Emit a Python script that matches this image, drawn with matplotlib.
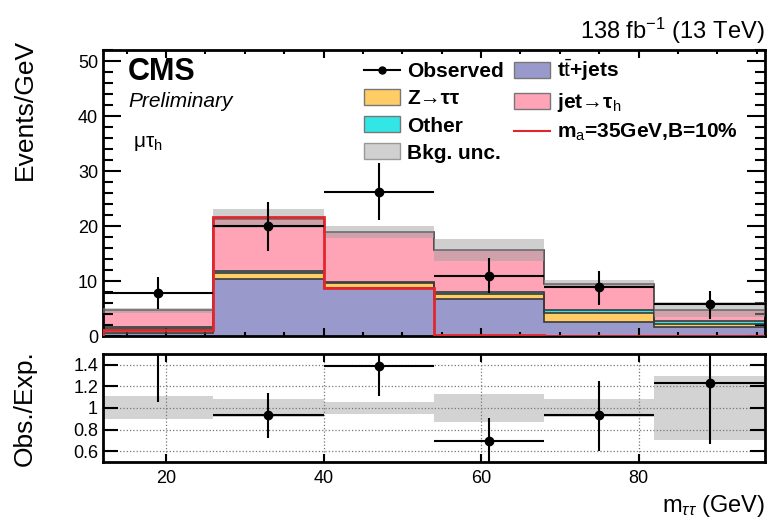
import matplotlib
matplotlib.use("Agg")
import matplotlib.pyplot as plt
import numpy as np
from matplotlib.ticker import MultipleLocator, FuncFormatter
from matplotlib.patches import Patch
from matplotlib.lines import Line2D

plt.rcParams["font.family"] = ["Liberation Sans", "DejaVu Sans"]
plt.rcParams["mathtext.fontset"] = "custom"
plt.rcParams["mathtext.rm"] = "Liberation Sans"
plt.rcParams["mathtext.it"] = "Liberation Sans:italic"
plt.rcParams["mathtext.bf"] = "Liberation Sans:bold"

# binning in m_tautau (GeV)
edges = [12, 26, 40, 54, 68, 82, 96]
centers = [19, 33, 47, 61, 75, 89]

# backgrounds (events/GeV), bottom to top of the stack
ttbar = [0.6, 10.4, 8.8, 6.7, 2.6, 1.7]
ztt = [0.7, 1.1, 0.8, 0.9, 1.7, 0.5]
other = [0.4, 0.3, 0.2, 0.4, 0.4, 0.6]
jetfake = [3.0, 9.6, 9.2, 7.7, 4.8, 2.0]
bkg_unc = [0.5, 1.7, 1.1, 2.0, 0.8, 1.4]

# signal m_a = 35 GeV, B = 10%
signal = [1.1, 21.7, 8.8, 0.3, 0.05, 0.0]

# data
obs = [7.8, 20.0, 26.3, 10.9, 8.9, 5.9]
obs_lo = [2.85, 4.5, 5.2, 3.1, 3.2, 2.7]
obs_hi = [2.9, 4.4, 5.2, 3.4, 3.0, 2.3]

c_tt = "#9999cc"
c_z = "#ffcc66"
c_other = "#33e6e6"
c_jet = "#ffa3b6"
c_sig = "#e3262e"

fig = plt.figure(figsize=(7.74, 5.18), dpi=100)
ax = fig.add_axes([0.133, 0.351, 0.855, 0.552])
rax = fig.add_axes([0.133, 0.108, 0.855, 0.209])

# stack
base = np.zeros(len(centers))
for vals, col in [(ttbar, c_tt), (ztt, c_z), (other, c_other), (jetfake, c_jet)]:
    top = base + np.array(vals)
    ax.stairs(top, edges, baseline=base, fill=True, color=col, lw=0, zorder=1)
    ax.stairs(top, edges, baseline=None, color="#3a3a3a", lw=1.2, zorder=2)
    base = top
total = base
unc = np.array(bkg_unc)

ax.stairs(total + unc, edges, baseline=total - unc, fill=True,
          color="#a0a0a0", alpha=0.5, lw=0, zorder=3)
ax.stairs(signal, edges, baseline=0, color=c_sig, lw=2, zorder=4)
ax.errorbar(centers, obs, xerr=7, yerr=[obs_lo, obs_hi], fmt="o", color="black",
            ms=6, lw=1.5, capsize=0, zorder=5)

ax.set_xlim(12, 96)
ax.set_ylim(0, 52)
ax.yaxis.set_major_locator(MultipleLocator(10))
ax.yaxis.set_minor_locator(MultipleLocator(2))
ax.xaxis.set_major_locator(MultipleLocator(20))
ax.xaxis.set_minor_locator(MultipleLocator(5))
ax.tick_params(which="both", direction="in", top=True, right=True,
               labelbottom=False, width=1.5, labelsize=13)
ax.tick_params(axis="y", which="major", length=13)
ax.tick_params(axis="y", which="minor", length=7)
ax.tick_params(axis="x", which="major", length=6)
ax.tick_params(axis="x", which="minor", length=3)
ax.set_ylabel("Events/GeV", fontsize=19, loc="top")
ax.yaxis.set_label_coords(-0.1, 1.04)

ax.text(1.0, 1.015, "138 fb$^{-1}$ (13 TeV)", transform=ax.transAxes,
        ha="right", va="bottom", fontsize=17)
ax.text(0.038, 0.925, "CMS", transform=ax.transAxes, fontsize=22,
        fontweight="bold", va="center")
ax.text(0.038, 0.82, "Preliminary", transform=ax.transAxes, fontsize=15,
        style="italic", va="center")
ax.text(0.045, 0.675, "\u03bc\u03c4$_{\\rm h}$", transform=ax.transAxes,
        fontsize=15, va="center")

handles = [
    Line2D([0], [0], color="black", marker="o", ms=5, lw=1.5),
    Patch(facecolor=c_z, edgecolor="#777777"),
    Patch(facecolor=c_other, edgecolor="#777777"),
    Patch(facecolor="#d0d0d0", edgecolor="#999999"),
    Patch(facecolor=c_tt, edgecolor="#777777"),
    Patch(facecolor=c_jet, edgecolor="#777777"),
    Line2D([0], [0], color=c_sig, lw=1.5),
]
labels = ["Observed", "Z\u2192\u03c4\u03c4", "Other", "Bkg. unc.",
          "t$\\bar{\\rm t}$+jets", "jet\u2192\u03c4$_{\\rm h}$",
          "m$_{\\rm a}$=35GeV,B=10%"]
ax.legend(handles, labels, ncol=2, loc="upper left", bbox_to_anchor=(0.395, 0.975),
          frameon=False, prop={"weight": "bold", "size": 15}, handlelength=1.7,
          handleheight=0.8, handletextpad=0.35, labelspacing=0.38,
          columnspacing=0.5, borderpad=0, borderaxespad=0)

# ratio panel
ratio = np.array(obs) / total
r_lo = np.array(obs_lo) / total
r_hi = np.array(obs_hi) / total
rax.stairs(1 + unc / total, edges, baseline=1 - unc / total, fill=True,
           color="#d3d3d3", lw=0, zorder=1)
rax.errorbar(centers, ratio, xerr=7, yerr=[r_lo, r_hi], fmt="o", color="black",
             ms=6, lw=1.5, capsize=0, zorder=3)
rax.set_xlim(12, 96)
rax.set_ylim(0.5, 1.5)
rax.yaxis.set_major_locator(MultipleLocator(0.2))
rax.xaxis.set_major_locator(MultipleLocator(20))
rax.yaxis.set_major_formatter(FuncFormatter(lambda v, p: "%g" % round(v, 2)))
rax.grid(True, ls=":", color="#777777", lw=0.9, zorder=2)
rax.set_axisbelow(False)
rax.tick_params(which="both", direction="in", top=True, right=True,
                width=1.5, labelsize=13)
rax.tick_params(axis="y", length=11)
rax.tick_params(axis="x", length=6, pad=6)
rax.set_ylabel("Obs./Exp.", fontsize=19)
rax.yaxis.set_label_coords(-0.1, 0.5)
rax.set_xlabel("m$_{\\tau\\tau}$ (GeV)", fontsize=17, loc="right")

for a in (ax, rax):
    for s in a.spines.values():
        s.set_linewidth(2)

fig.savefig("out.png", dpi=100)
